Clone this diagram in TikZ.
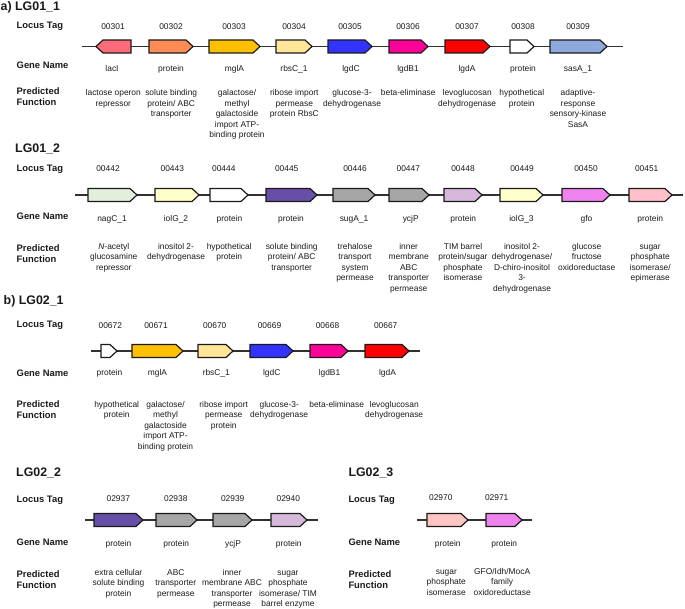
\documentclass[tikz,border=0pt]{standalone}
\usepackage{fontspec}
\setmainfont{Liberation Sans}
\definecolor{cLacI}{HTML}{FF6B78}
\definecolor{cSolute}{HTML}{FF8C55}
\definecolor{cMgl}{HTML}{FFC000}
\definecolor{cRbs}{HTML}{FFE699}
\definecolor{cBlue}{HTML}{3333FF}
\definecolor{cMag}{HTML}{FF0099}
\definecolor{cRed}{HTML}{FF0000}
\definecolor{cSas}{HTML}{8EA9DB}
\definecolor{cNag}{HTML}{E2EFDA}
\definecolor{cIol}{HTML}{FFFFCC}
\definecolor{cPurp}{HTML}{674EA7}
\definecolor{cGray}{HTML}{A6A6A6}
\definecolor{cTim}{HTML}{D5B8DA}
\definecolor{cVio}{HTML}{EE82EE}
\definecolor{cPink}{HTML}{FFC0CB}
\definecolor{cPinkB}{HTML}{FFC4C4}
\definecolor{cInk}{HTML}{1A1A1A}
\newcommand\gf[4]{\filldraw[genebox,fill=#4] (#1,{#3-6.5}) -- ({#2-7},{#3-6.5}) -- (#2,#3) -- ({#2-7},{#3+6.5}) -- (#1,{#3+6.5}) -- cycle;}
\newcommand\gr[4]{\filldraw[genebox,fill=#4] (#1,#3) -- ({#1+7},{#3-6.5}) -- (#2,{#3-6.5}) -- (#2,{#3+6.5}) -- ({#1+7},{#3+6.5}) -- cycle;}
\newcommand\tx[4]{\node[txt] (#1) at (#2,#3) {\begin{tabular}[t]{@{}c@{}}#4\end{tabular}};}
\newcommand\lb[4]{\node[lbl] (#1) at (#2,#3) {\begin{tabular}[t]{@{}l@{}}#4\end{tabular}};}
\begin{document}
\begin{tikzpicture}[x=1pt,y=-1pt,
  genebox/.style={draw=cInk,line width=1.2pt,line join=miter},
  track/.style={draw=cInk!90,line width=1.1pt},
  txt/.style={anchor=base,inner sep=0pt,text=cInk,font=\fontsize{8.4}{10.4}\selectfont},
  lbl/.style={anchor=base west,inner sep=0pt,text=cInk,font=\bfseries\fontsize{9.4}{11}\selectfont},
  ttl/.style={anchor=base west,inner sep=0pt,text=cInk,font=\bfseries\fontsize{12.4}{14}\selectfont}]
\useasboundingbox (0,0) rectangle (685,609);

% ===================== a) LG01_1 =====================
\node[ttl] (t1) at (0.5,11) {a) LG01\_1};
\lb{l1a}{16.5}{29}{Locus Tag}
\lb{l1b}{16.5}{68.7}{Gene Name}
\lb{l1c}{16.5}{95}{Predicted\\Function}
\coordinate (s1) at (82,46.5); \coordinate (e1) at (623,46.5);
\draw[track] (s1) -- (e1);
\gr{96}{131}{46.5}{cLacI}
\gf{149}{193}{46.5}{cSolute}
\gf{209}{260}{46.5}{cMgl}
\gf{276}{312}{46.5}{cRbs}
\gf{328}{372}{46.5}{cBlue}
\gf{389}{428}{46.5}{cMag}
\gf{445}{490}{46.5}{cRed}
\gf{510}{534}{46.5}{white}
\gf{550}{607}{46.5}{cSas}
\tx{a1t}{113}{29.5}{00301}
\tx{a2t}{171}{29.5}{00302}
\tx{a3t}{234}{29.5}{00303}
\tx{a4t}{294}{29.5}{00304}
\tx{a5t}{350}{29.5}{00305}
\tx{a6t}{408}{29.5}{00306}
\tx{a7t}{467}{29.5}{00307}
\tx{a8t}{523}{29.5}{00308}
\tx{a9t}{578}{29.5}{00309}
\tx{a1n}{112}{72}{lacI}
\tx{a2n}{171}{72}{protein}
\tx{a3n}{234.5}{72}{mglA}
\tx{a4n}{294}{72}{rbsC\_1}
\tx{a5n}{351}{72}{lgdC}
\tx{a6n}{408}{72}{lgdB1}
\tx{a7n}{467}{72}{lgdA}
\tx{a8n}{523}{72}{protein}
\tx{a9n}{578}{72}{sasA\_1}
\tx{a1f}{113.3}{96}{lactose operon\\repressor}
\tx{a2f}{171.2}{96}{solute binding\\protein/ ABC\\transporter}
\tx{a3f}{237}{96}{galactose/\\methyl\\galactoside\\import ATP-\\binding protein}
\tx{a4f}{294.3}{96}{ribose import\\permease\\protein RbsC}
\tx{a5f}{352}{96}{glucose-3-\\dehydrogenase}
\tx{a6f}{408.3}{96}{beta-eliminase}
\tx{a7f}{467.2}{96}{levoglucosan\\dehydrogenase}
\tx{a8f}{521.8}{96}{hypothetical\\protein}
\tx{a9f}{578}{96}{adaptive-\\response\\sensory-kinase\\SasA}

% ===================== LG01_2 =====================
\node[ttl] (t2) at (15,152.5) {LG01\_2};
\lb{l2a}{16.5}{171.3}{Locus Tag}
\lb{l2b}{16.5}{220}{Gene Name}
\lb{l2c}{16.5}{251.7}{Predicted\\Function}
\coordinate (s2) at (75,195); \coordinate (e2) at (683,195);
\draw[track] (s2) -- (e2);
\gf{88}{137}{195}{cNag}
\gf{155}{199}{195}{cIol}
\gf{210}{248}{195}{white}
\gf{266}{317}{195}{cPurp}
\gf{333}{375}{195}{cGray}
\gf{389}{429}{195}{cGray}
\gf{444}{482}{195}{cTim}
\gf{500}{543}{195}{cIol}
\gf{562}{610}{195}{cVio}
\gf{629}{672}{195}{cPink}
\tx{b1t}{108}{171.7}{00442}
\tx{b2t}{172.3}{171.7}{00443}
\tx{b3t}{223.8}{171.7}{00444}
\tx{b4t}{286.7}{171.7}{00445}
\tx{b5t}{355}{171.7}{00446}
\tx{b6t}{408.3}{171.7}{00447}
\tx{b7t}{463}{171.7}{00448}
\tx{b8t}{522}{171.7}{00449}
\tx{b9t}{586}{171.7}{00450}
\tx{b10t}{646.7}{171.7}{00451}
\tx{b1n}{112}{221.5}{nagC\_1}
\tx{b2n}{176}{221.5}{iolG\_2}
\tx{b3n}{229.5}{221.5}{protein}
\tx{b4n}{291}{221.5}{protein}
\tx{b5n}{354}{221.5}{sugA\_1}
\tx{b6n}{410.7}{221.5}{ycjP}
\tx{b7n}{463.2}{221.5}{protein}
\tx{b8n}{521.5}{221.5}{iolG\_3}
\tx{b9n}{586.5}{221.5}{gfo}
\tx{b10n}{650.3}{221.5}{protein}
\tx{b1f}{113.8}{249.6}{\textit{N}-acetyl\\glucosamine\\repressor}
\tx{b2f}{176}{249.6}{inositol 2-\\dehydrogenase}
\tx{b3f}{229.2}{249.6}{hypothetical\\protein}
\tx{b4f}{291.7}{249.6}{solute binding\\protein/ ABC\\transporter}
\tx{b5f}{355}{249.6}{trehalose\\transport\\system\\permease}
\tx{b6f}{408.7}{249.6}{inner\\membrane\\ABC\\transporter\\permease}
\tx{b7f}{463}{249.6}{TIM barrel\\protein/sugar\\phosphate\\isomerase}
\tx{b8f}{522}{249.6}{inositol 2-\\dehydrogenase/\\D-chiro-inositol\\3-\\dehydrogenase}
\tx{b9f}{586.7}{249.6}{glucose\\fructose\\oxidoreductase}
\tx{b10f}{650.2}{249.6}{sugar\\phosphate\\isomerase/\\epimerase}

% ===================== b) LG02_1 =====================
\node[ttl] (t3) at (3.5,304.5) {b) LG02\_1};
\lb{l3a}{16.5}{327.5}{Locus Tag}
\lb{l3b}{16.5}{376}{Gene Name}
\lb{l3c}{16.5}{407.7}{Predicted\\Function}
\coordinate (s3) at (91,351); \coordinate (e3) at (420,351);
\draw[track] (s3) -- (e3);
\gf{101}{117}{351}{white}
\gf{132}{183}{351}{cMgl}
\gf{198}{233}{351}{cRbs}
\gf{250}{293}{351}{cBlue}
\gf{310}{348}{351}{cMag}
\gf{365}{409}{351}{cRed}
\tx{c1t}{110.3}{328.3}{00672}
\tx{c2t}{156}{328.3}{00671}
\tx{c3t}{214.7}{328.3}{00670}
\tx{c4t}{269.5}{328.3}{00669}
\tx{c5t}{327.5}{328.3}{00668}
\tx{c6t}{385.7}{328.3}{00667}
\tx{c1n}{109.5}{375.5}{protein}
\tx{c2n}{157.5}{375.5}{mglA}
\tx{c3n}{216.3}{375.5}{rbsC\_1}
\tx{c4n}{271.7}{375.5}{lgdC}
\tx{c5n}{329.5}{375.5}{lgdB1}
\tx{c6n}{387.5}{375.5}{lgdA}
\tx{c1f}{116.7}{407.5}{hypothetical\\protein}
\tx{c2f}{165.5}{407.5}{galactose/\\methyl\\galactoside\\import ATP-\\binding protein}
\tx{c3f}{223.7}{407.5}{ribose import\\permease\\protein}
\tx{c4f}{279.2}{407.5}{glucose-3-\\dehydrogenase}
\tx{c5f}{336.7}{407.5}{beta-eliminase}
\tx{c6f}{394.2}{407.5}{levoglucosan\\dehydrogenase}

% ===================== LG02_2 =====================
\node[ttl] (t4) at (16,476) {LG02\_2};
\lb{l4a}{16.5}{502}{Locus Tag}
\lb{l4b}{16.5}{545}{Gene Name}
\lb{l4c}{16.5}{577.7}{Predicted\\Function}
\coordinate (s4) at (85,520); \coordinate (e4) at (318,520);
\draw[track] (s4) -- (e4);
\gf{94}{143}{520}{cPurp}
\gf{156}{197}{520}{cGray}
\gf{213}{252}{520}{cGray}
\gf{271}{307}{520}{cTim}
\tx{d1t}{118.3}{501}{02937}
\tx{d2t}{175.8}{501}{02938}
\tx{d3t}{232.7}{501}{02939}
\tx{d4t}{288.3}{501}{02940}
\tx{d1n}{118.5}{546.5}{protein}
\tx{d2n}{176.2}{546.5}{protein}
\tx{d3n}{233}{546.5}{ycjP}
\tx{d4n}{288.8}{546.5}{protein}
\tx{d1f}{118.5}{575.5}{extra cellular\\solute binding\\protein}
\tx{d2f}{175.8}{575.5}{ABC\\transporter\\permease}
\tx{d3f}{232}{575.5}{inner\\membrane ABC\\transporter\\permease}
\tx{d4f}{288}{575.5}{sugar\\phosphate\\isomerase/ TIM\\barrel enzyme}

% ===================== LG02_3 =====================
\node[ttl] (t5) at (348.3,476) {LG02\_3};
\lb{l5a}{348.3}{502.5}{Locus Tag}
\lb{l5b}{348.3}{545}{Gene Name}
\lb{l5c}{348.3}{577.3}{Predicted\\Function}
\coordinate (s5) at (417,520); \coordinate (e5) at (532,520);
\draw[track] (s5) -- (e5);
\gf{427}{468}{520}{cPinkB}
\gf{486}{522}{520}{cVio}
\tx{f1t}{440.8}{500.7}{02970}
\tx{f2t}{496.7}{500.7}{02971}
\tx{f1n}{447.8}{546}{protein}
\tx{f2n}{504.2}{546}{protein}
\tx{f1f}{446.3}{574.5}{sugar\\phosphate\\isomerase}
\tx{f2f}{502.2}{574.5}{GFO/Idh/MocA\\family\\oxidoreductase}
\end{tikzpicture}
\end{document}
